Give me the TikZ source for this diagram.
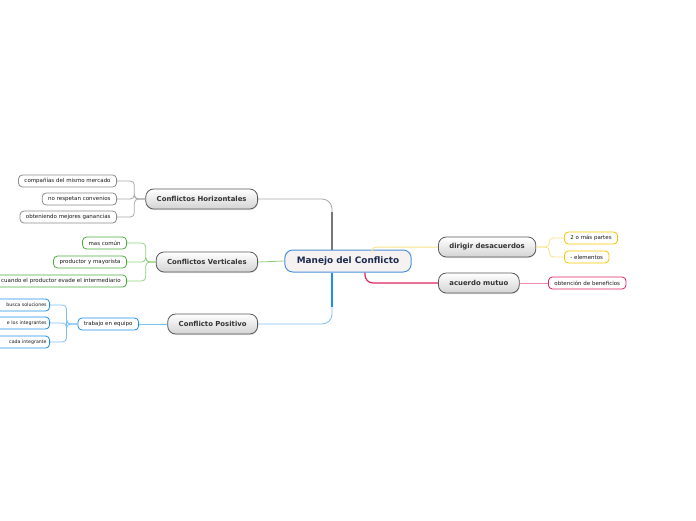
\documentclass[tikz,border=0pt]{standalone}
\usepackage{fontspec}
\setmainfont{DejaVu Sans}
\usetikzlibrary{positioning,shadows}

\definecolor{rootblue}{HTML}{4A90D9}
\definecolor{rootfill}{HTML}{F6F2F2}
\definecolor{rootnavy}{HTML}{1B2A4E}
\definecolor{grayln}{HTML}{A8A8A8}
\definecolor{graybd}{HTML}{8C8C8C}
\definecolor{greenln}{HTML}{8FD17F}
\definecolor{greenbd}{HTML}{4CAE3C}
\definecolor{blueln}{HTML}{7CC0F2}
\definecolor{bluebd}{HTML}{1E8FE8}
\definecolor{yellowln}{HTML}{F7E38A}
\definecolor{yellowbd}{HTML}{F5C800}
\definecolor{pinkln}{HTML}{F08AA8}
\definecolor{pinkbd}{HTML}{E0245E}

\tikzset{
  rootnode/.style={draw=rootblue, fill=rootfill, rounded corners=8pt, line width=1pt,
    minimum height=22pt, inner xsep=12pt, text=rootnavy,
    font=\fontsize{8.9}{10}\selectfont\bfseries},
  topic/.style={draw=black!65, top color=white, bottom color=black!17, rounded corners=8pt,
    line width=0.8pt, minimum height=20pt, inner xsep=11pt, text=black!80,
    font=\fontsize{6.9}{8}\selectfont\bfseries,
    drop shadow={shadow xshift=0.4pt, shadow yshift=-1pt, opacity=0.25}},
  leaf/.style={draw, fill=white, rounded corners=4pt, line width=0.8pt,
    minimum height=12pt, inner xsep=6pt, inner ysep=0pt, text=black!90,
    font=\fontsize{5.5}{6}\selectfont},
  edgeleaf/.style={leaf, anchor=east, text width=60pt, align=right, inner xsep=3pt,
    font=\fontsize{4.7}{6}\selectfont},
  link/.style={line width=0.8pt, rounded corners=4pt},
}

\begin{document}
\begin{tikzpicture}[x=1pt, y={(0pt,-1pt)}]
\useasboundingbox (0,0) rectangle (696,520);

% tema central
\node[rootnode] (root) at (348,261) {Manejo del Conflicto};

% ramas de la izquierda
\node[topic, anchor=east] (horiz) at (258,199) {Conflictos Horizontales};
\node[topic, anchor=east] (vert) at (258,262) {Conflictos Verticales};
\node[topic, anchor=east] (posit) at (258,324) {Conflicto Positivo};

% ramas de la derecha
\node[topic, anchor=west] (dirig) at (438,247) {dirigir desacuerdos};
\node[topic, anchor=west] (acuer) at (438,283) {acuerdo mutuo};

% hojas: conflictos horizontales
\node[leaf, draw=graybd, anchor=east] (h1) at (117,181) {compañías del mismo mercado};
\node[leaf, draw=graybd, anchor=east] (h2) at (117,199) {no respetan convenios};
\node[leaf, draw=graybd, anchor=east] (h3) at (117,217) {obteniendo mejores ganancias};

% hojas: conflictos verticales
\node[leaf, draw=greenbd, anchor=east] (v1) at (127,243) {mas común};
\node[leaf, draw=greenbd, anchor=east] (v2) at (127,262) {productor y mayorista};
\node[leaf, draw=greenbd, anchor=east] (v3) at (127,281) {cuando el productor evade el intermediario};

% hojas: conflicto positivo
\node[leaf, draw=bluebd, anchor=east] (trab) at (139,324) {trabajo en equipo};
\node[edgeleaf, draw=bluebd] (p1) at (50,305) {busca soluciones};
\node[edgeleaf, draw=bluebd] (p2) at (50,323) {e los integrantes};
\node[edgeleaf, draw=bluebd] (p3) at (50,342) {cada integrante};

% hojas de la derecha
\node[leaf, draw=yellowbd, anchor=west] (d1) at (564,238) {2 o más partes};
\node[leaf, draw=yellowbd, anchor=west] (d2) at (564,257) {- elementos};
\node[leaf, draw=pinkbd, anchor=west] (a1) at (548,283) {obtención de beneficios};

% conexiones del tema central
\draw[link, grayln, rounded corners=10pt] ([xshift=-16pt]root.north) |- (horiz.east);
\draw[grayln!70!black, line width=2.4pt] ([xshift=-16pt]root.north) -- ++(0,-38);
\draw[link, greenln] (root.west) -- (vert.east);
\draw[link, blueln, rounded corners=10pt] ([xshift=-16pt]root.south) |- (posit.east);
\draw[bluebd, line width=2.4pt] ([xshift=-16pt]root.south) -- ++(0,34);
\draw[link, yellowln, line width=1pt] ([xshift=24pt]root.north) |- (dirig.west);
\draw[link, pinkbd, line width=1.2pt, rounded corners=8pt] ([xshift=17pt]root.south) |- (acuer.west);

% conexiones de las hojas
\foreach \l in {h1,h2,h3}
  \draw[link, grayln] (horiz.west) -- ++(-11,0) |- (\l.east);
\foreach \l in {v1,v2,v3}
  \draw[link, greenln] (vert.west) -- ++(-10,0) |- (\l.east);
\draw[link, blueln] (posit.west) -- (trab.east);
\foreach \l in {p1,p2,p3}
  \draw[link, blueln] (trab.west) -- ++(-11,0) |- (\l.east);
\foreach \l in {d1,d2}
  \draw[link, yellowln] (dirig.east) -- ++(13,0) |- (\l.west);
\draw[link, pinkln] (acuer.east) -- (a1.west);

\end{tikzpicture}
\end{document}
